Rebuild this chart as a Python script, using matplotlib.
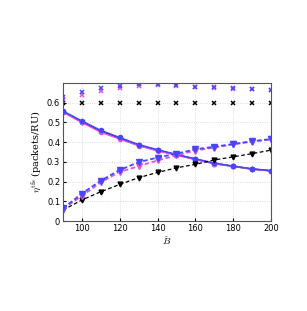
import numpy as np
import matplotlib.pyplot as plt

plt.rcParams['mathtext.fontset'] = 'cm'

B = [90, 100, 110, 120, 130, 140, 150, 160, 170, 180, 190, 200]

# upper bound markers
ub_black = [0.6] * 12
ub_blue = [0.628, 0.653, 0.673, 0.687, 0.693, 0.694, 0.688, 0.682, 0.678, 0.673, 0.669, 0.665]
ub_mag = [0.618, 0.640, 0.662, 0.676, 0.685, 0.688, 0.685, 0.680, 0.676, 0.672, 0.668, 0.664]

# decreasing (solid)
dec_blue = [0.558, 0.508, 0.460, 0.424, 0.388, 0.362, 0.338, 0.316, 0.294, 0.279, 0.265, 0.256]
dec_mag = [0.552, 0.500, 0.451, 0.416, 0.382, 0.356, 0.334, 0.312, 0.291, 0.277, 0.263, 0.254]
dec_black = [0.555, 0.503, 0.455, 0.419, 0.385, 0.359, 0.336, 0.314, 0.292, 0.278, 0.264, 0.255]

# increasing (dashed)
inc_blue = [0.064, 0.140, 0.205, 0.259, 0.299, 0.322, 0.342, 0.364, 0.377, 0.391, 0.405, 0.416]
inc_mag = [0.062, 0.128, 0.196, 0.250, 0.278, 0.308, 0.333, 0.358, 0.373, 0.389, 0.403, 0.414]
inc_black = [0.056, 0.107, 0.149, 0.186, 0.220, 0.247, 0.270, 0.288, 0.310, 0.326, 0.342, 0.360]

blue = '#4646ff'
mag = '#e052e0'

fig = plt.figure(figsize=(3.07, 3.11), dpi=100)
ax = fig.add_axes([0.205, 0.289, 0.678, 0.444])

ax.plot(B, ub_black, 'x', color='k', ms=2.8, mew=1.1)
ax.plot(B, ub_mag, 'x', color=mag, ms=3, mew=1.1)
ax.plot(B, ub_blue, 'x', color=blue, ms=3, mew=1.1)

ax.plot(B, dec_black, '-', color='k', lw=1.1, marker='o', ms=3)
ax.plot(B, dec_mag, '-', color=mag, lw=1.1, marker='o', ms=3)
ax.plot(B, dec_blue, '-', color=blue, lw=1.1, marker='o', ms=3)

ax.plot(B, inc_black, '--', color='k', lw=0.9, marker='v', ms=3.5, dashes=(3, 2))
ax.plot(B, inc_mag, '--', color=mag, lw=1.3, marker='v', ms=4, dashes=(2.5, 1.5))
ax.plot(B, inc_blue, '--', color=blue, lw=1.3, marker='v', ms=4, dashes=(2.5, 1.5))

ax.set_xlim(90, 200)
ax.set_ylim(0, 0.7)
ax.set_xticks([100, 120, 140, 160, 180, 200])
ax.set_yticks([0, 0.1, 0.2, 0.3, 0.4, 0.5, 0.6])
ax.set_yticklabels(['0', '0.1', '0.2', '0.3', '0.4', '0.5', '0.6'])
ax.tick_params(labelsize=6, length=2, direction='in', pad=2)
ax.grid(True, linestyle=':', color='#d0d0d0', lw=0.6)
for s in ax.spines.values():
    s.set_color('#555555')
    s.set_linewidth(0.8)

ax.set_xlabel(r'$\hat{B}$', fontsize=7, labelpad=1)
ax.set_ylabel(r'$\eta^{\mathrm{tfs}}$ (packets/RU)', fontsize=7, labelpad=2,
              family='DejaVu Serif')

fig.savefig('out.png', dpi=100)
